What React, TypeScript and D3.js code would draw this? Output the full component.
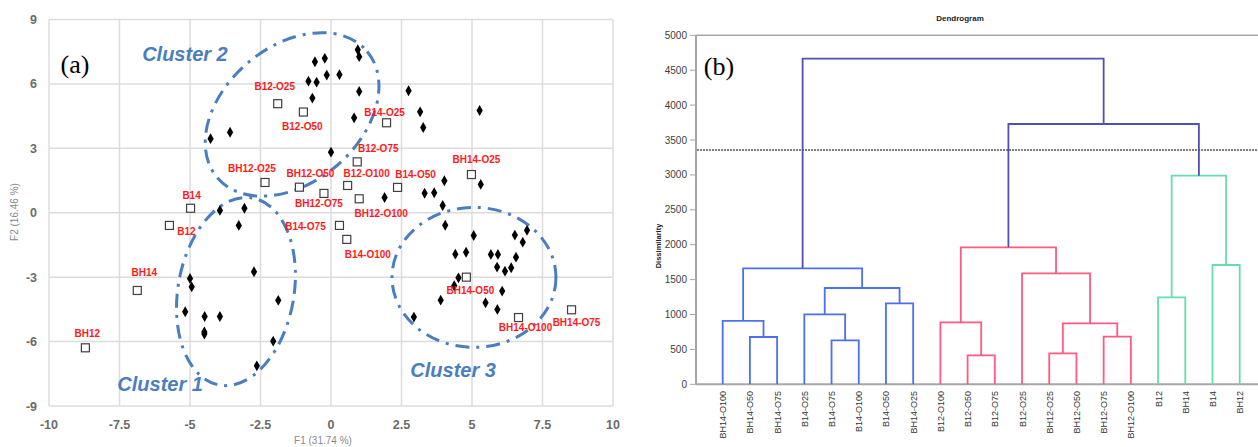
import React from "react";
import * as d3 from "d3";

// ---------- Panel (a) data ----------
const diamondX = [-0.57, -0.8, -0.51, -0.66, -3.58, -4.27, -3.94, -3.07, -3.27, -0.22, -0.15, 0.3, 0.95, 1.0, 1.0, 2.75, 3.16, 3.27, 5.27, 0.82, 0.0, 4.02, 5.31, 3.32, 3.66, 1.9, 3.96, 4.05, -2.73, -5.0, -4.94, -1.87, -5.17, -4.48, -3.94, -4.49, -4.49, -2.05, -2.63, 5.06, 6.52, 6.95, 6.8, 4.41, 4.79, 5.67, 5.92, 6.56, 5.89, 6.17, 6.39, 4.52, 4.37, 6.07, 3.89, 5.48, 5.9, 2.94];
const diamondY = [7.03, 6.13, 6.08, 5.34, 3.75, 3.45, 0.11, 0.21, -0.59, 7.19, 6.41, 6.43, 7.59, 7.27, 5.65, 5.68, 4.7, 3.97, 4.76, 4.42, 2.82, 1.49, 1.32, 0.91, 0.93, 0.71, 0.34, -0.58, -2.75, -3.06, -3.45, -4.08, -4.61, -4.83, -4.83, -5.55, -5.65, -5.98, -7.13, -1.06, -1.04, -0.82, -1.37, -1.93, -1.84, -1.94, -1.94, -2.07, -2.53, -2.72, -2.56, -3.03, -3.4, -3.65, -4.07, -4.19, -4.5, -4.86];

const sampleNames = ["B12-O25", "B12-O50", "B14-O25", "B12-O75", "BH14-O25", "B12-O100", "B14-O50", "BH12-O75", "BH12-O100", "BH12-O50", "BH12-O25", "B14", "B12", "B14-O75", "B14-O100", "BH14-O50", "BH14-O100", "BH14-O75", "BH14", "BH12"];
const sampleX = [-1.89, -0.98, 1.97, 0.93, 4.98, 0.59, 2.36, -0.25, 1.0, -1.12, -2.34, -4.98, -5.73, 0.3, 0.56, 4.8, 6.65, 8.53, -6.87, -8.71];
const sampleY = [5.08, 4.69, 4.19, 2.37, 1.78, 1.27, 1.18, 0.9, 0.65, 1.19, 1.41, 0.21, -0.59, -0.59, -1.24, -3.0, -4.88, -4.52, -3.62, -6.29];
// label offsets (px) relative to the marker: [dx, dy]
const labelOffsets: [number, number][] = [[-3, -17], [-1, 14], [-2, -10], [21, -13], [5, -15], [19, -12], [18, -13], [-5, 10], [22, 15], [11, -14], [-13, -14], [1, -13], [17, 6], [-34, 1], [21, 15], [4, 13], [7, 10], [5, 13], [7, -18], [2, -14]];

const xTicks = [-10, -7.5, -5, -2.5, 0, 2.5, 5, 7.5, 10];
const yTicks = [-9, -6, -3, 0, 3, 6, 9];

const clusterNames = ["Cluster 1", "Cluster 2", "Cluster 3"];
const clusterCx = [-3.37, -1.38, 5.07];
const clusterCy = [-3.67, 4.58, -3.01];
const clusterRx = [58, 98, 82];
const clusterRy = [95, 68, 70];
const clusterRot = [10, -40, 0];
const clusterLabelX = [-6.06, -5.18, 4.33];
const clusterLabelY = [-8.32, 7.05, -7.67];

// ---------- Panel (b) data ----------
const leaves = ["BH14-O100", "BH14-O50", "BH14-O75", "B14-O25", "B14-O75", "B14-O100", "B14-O50", "BH14-O25", "B12-O100", "B12-O50", "B12-O75", "B12-O25", "BH12-O25", "BH12-O50", "BH12-O75", "BH12-O100", "B12", "BH14", "B14", "BH12"];
// merges: [childA, childB, height]; ids >= 20 refer to previous merges
const mergeA = [1, 0, 4, 3, 6, 23, 21, 9, 8, 12, 14, 29, 11, 28, 16, 18, 34, 33, 26];
const mergeB = [2, 20, 5, 22, 7, 24, 25, 10, 27, 13, 15, 30, 31, 32, 17, 19, 35, 36, 37];
const mergeH = [678, 908, 630, 1003, 1160, 1380, 1662, 415, 888, 444, 682, 874, 1590, 1963, 1246, 1709, 2989, 3729, 4665];
const mergeGroup = ["blue", "blue", "blue", "blue", "blue", "blue", "blue", "red", "red", "red", "red", "red", "red", "red", "green", "green", "green", "top", "top"];
const dTicks = [0, 500, 1000, 1500, 2000, 2500, 3000, 3500, 4000, 4500, 5000];
const truncation = 3357;

const groupColor: Record<string, string> = {
  blue: "#4d6ff0",
  red: "#ff5a82",
  green: "#66ddaa",
  top: "#5050b4",
};

export default function App() {
  // Panel a scales
  const x = d3.scaleLinear().domain([-10, 10]).range([49, 613]);
  const y = d3.scaleLinear().domain([-9, 9]).range([406, 19.5]);

  // Panel b scales
  const lx = d3.scalePoint().domain(leaves).range([722.7, 1239.7]);
  const ly = d3.scaleLinear().domain([0, 5000]).range([384.3, 35.3]);

  const nodeX: number[] = leaves.map((l) => lx(l) as number);
  const nodeH: number[] = leaves.map(() => 0);
  mergeA.forEach((a, i) => {
    const b = mergeB[i];
    nodeX.push((nodeX[a] + nodeX[b]) / 2);
    nodeH.push(mergeH[i]);
  });

  const diamond = d3.symbol().type(d3.symbolDiamond).size(34)();
  const labelFont = "'Liberation Sans', Arial, sans-serif";

  return (
    <svg width={1258} height={447} style={{ position: "absolute", left: 0, top: 0, background: "#fff" }} fontFamily={labelFont}>
      {/* ---------------- Panel (a) ---------------- */}
      <g>
        {xTicks.map((t) => (
          <line key={"gx" + t} x1={x(t)} x2={x(t)} y1={y(9)} y2={y(-9)} stroke="#dcdcdc" strokeWidth={1.5} />
        ))}
        {yTicks.map((t) => (
          <line key={"gy" + t} x1={x(-10)} x2={x(10)} y1={y(t)} y2={y(t)} stroke="#dcdcdc" strokeWidth={1.5} />
        ))}
        {xTicks.map((t) => (
          <text key={"tx" + t} x={x(t)} y={429} textAnchor="middle" fontSize={12.5} fontWeight="bold" fill="#6b6b6b">
            {t}
          </text>
        ))}
        {yTicks.map((t) => (
          <text key={"ty" + t} x={37} y={y(t) + 4.5} textAnchor="end" fontSize={12.5} fontWeight="bold" fill="#6b6b6b">
            {t}
          </text>
        ))}
        <text x={323} y={444} textAnchor="middle" fontSize={10} fill="#8a8a8a">
          F1 (31.74 %)
        </text>
        <text transform={`translate(18,212) rotate(-90)`} textAnchor="middle" fontSize={10} fill="#8a8a8a">
          F2 (16.46 %)
        </text>

        {/* cluster ellipses */}
        {clusterNames.map((n, i) => (
          <ellipse
            key={"el" + n}
            cx={0}
            cy={0}
            rx={clusterRx[i]}
            ry={clusterRy[i]}
            transform={`translate(${x(clusterCx[i])},${y(clusterCy[i])}) rotate(${clusterRot[i]})`}
            fill="none"
            stroke="#4a7ebf"
            strokeWidth={3}
            strokeDasharray="14,7,3,7"
          />
        ))}
        {clusterNames.map((n, i) => (
          <text
            key={"cl" + n}
            x={x(clusterLabelX[i])}
            y={y(clusterLabelY[i])}
            textAnchor="middle"
            fontSize={20}
            fontWeight="bold"
            fontStyle="italic"
            fill="#4a7ebf"
          >
            {n}
          </text>
        ))}

        {/* diamonds */}
        {diamondX.map((dx, i) => (
          <path key={"d" + i} d={diamond as string} transform={`translate(${x(dx)},${y(diamondY[i])})`} fill="#000" />
        ))}

        {/* open squares + labels */}
        {sampleNames.map((n, i) => (
          <g key={"s" + n}>
            <rect x={x(sampleX[i]) - 4} y={y(sampleY[i]) - 4} width={8} height={8} fill="#fff" stroke="#404040" strokeWidth={1.2} />
            <text
              x={x(sampleX[i]) + labelOffsets[i][0]}
              y={y(sampleY[i]) + labelOffsets[i][1] + 3.5}
              textAnchor="middle"
              fontSize={10}
              fontWeight="bold"
              fill="#ff1a1a"
            >
              {n}
            </text>
          </g>
        ))}

        <text x={75} y={73} textAnchor="middle" fontSize={26} fontFamily="'Liberation Serif', 'Times New Roman', serif" fill="#000">
          (a)
        </text>
      </g>

      {/* ---------------- Panel (b) ---------------- */}
      <g>
        <text x={960} y={21} textAnchor="middle" fontSize={8} fontWeight="bold" fill="#222">
          Dendrogram
        </text>
        <text transform={`translate(661,246) rotate(-90)`} textAnchor="middle" fontSize={7.5} fontWeight="bold" fill="#222">
          Dissimilarity
        </text>
        {/* axes */}
        <line x1={696} x2={1258} y1={ly(5000)} y2={ly(5000)} stroke="#a6a6a6" strokeWidth={1.5} />
        <line x1={696} x2={1258} y1={ly(0)} y2={ly(0)} stroke="#a6a6a6" strokeWidth={2} />
        <line x1={696} x2={696} y1={ly(5000)} y2={ly(0)} stroke="#a6a6a6" strokeWidth={2} />
        {dTicks.map((t) => (
          <g key={"dt" + t}>
            <line x1={690} x2={696} y1={ly(t)} y2={ly(t)} stroke="#a6a6a6" strokeWidth={1} />
            <text x={687} y={ly(t) + 3.5} textAnchor="end" fontSize={10} fill="#404040">
              {t}
            </text>
          </g>
        ))}

        {/* links */}
        {mergeA.map((a, i) => {
          const b = mergeB[i];
          const h = ly(mergeH[i]);
          const c = groupColor[mergeGroup[i]];
          const path = `M${nodeX[a]},${ly(nodeH[a])}V${h}H${nodeX[b]}V${ly(nodeH[b])}`;
          return <path key={"m" + i} d={path} fill="none" stroke={c} strokeWidth={1.8} />;
        })}

        <line x1={697} x2={1258} y1={ly(truncation)} y2={ly(truncation)} stroke="#555" strokeWidth={1.5} strokeDasharray="2,1" />

        {leaves.map((l) => (
          <text key={"lf" + l} transform={`translate(${(lx(l) as number) + 3.5},391) rotate(-90)`} textAnchor="end" fontSize={9} fill="#333">
            {l}
          </text>
        ))}

        <text x={719} y={75} textAnchor="middle" fontSize={26} fontFamily="'Liberation Serif', 'Times New Roman', serif" fill="#000">
          (b)
        </text>
      </g>
    </svg>
  );
}
